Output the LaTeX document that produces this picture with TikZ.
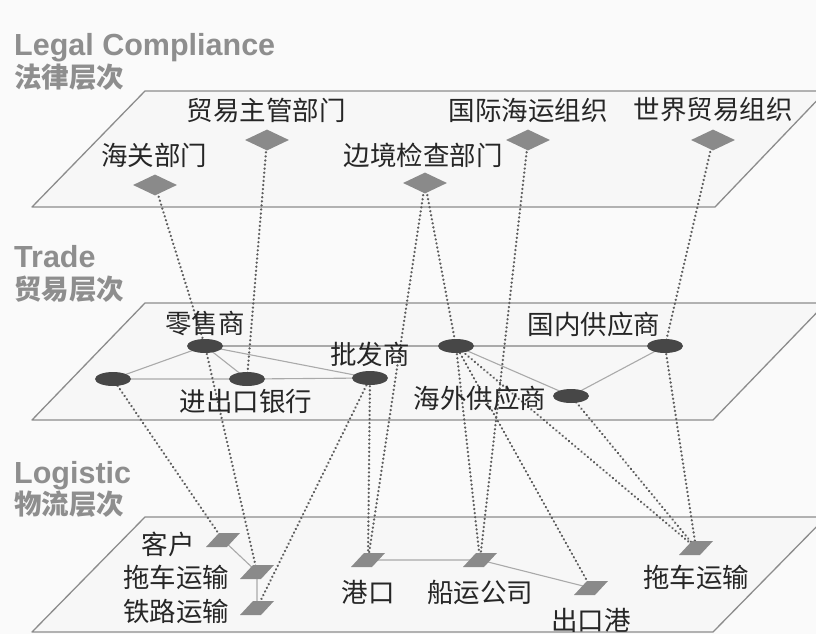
\documentclass[tikz,border=0pt]{standalone}
\usepackage{fontspec}
\setmainfont{Liberation Sans}
\newfontfamily\cjk{Noto Sans CJK SC}
\usetikzlibrary{shapes.geometric}
\pgfdeclarelayer{bg}
\pgfsetlayers{bg,main}
\definecolor{bgcol}{HTML}{FAFAFA}
\definecolor{planefill}{HTML}{F7F7F7}
\definecolor{planeline}{HTML}{8C8C8C}
\definecolor{nodegray}{HTML}{8A8A8A}
\definecolor{darknode}{HTML}{474747}
\definecolor{labcol}{HTML}{262626}
\definecolor{titlecol}{HTML}{8E8E8E}
\definecolor{linkgray}{HTML}{AAAAAA}
\definecolor{dotgray}{HTML}{5E5E5E}
\tikzset{
  planebox/.style={draw=planeline, line width=1.3pt, fill=planefill, line join=round},
  legalnode/.style={diamond, fill=nodegray, minimum width=44pt, minimum height=21pt, inner sep=0pt},
  tradenode/.style={ellipse, fill=darknode, minimum width=36pt, minimum height=14pt, inner sep=0pt},
  logipt/.style={rectangle, inner sep=0pt, minimum size=0pt},
  logifill/.style={fill=nodegray},
  lab/.style={font=\cjk\fontsize{26.5}{27}\selectfont, text=labcol, inner sep=0pt},
  layertitle/.style={font=\bfseries\fontsize{30.5}{31}\selectfont, text=titlecol, inner sep=0pt, anchor=base west},
  layercn/.style={font=\cjk\bfseries\fontsize{27.5}{28}\selectfont, text=titlecol, inner sep=0pt, anchor=base west},
  solidlink/.style={draw=linkgray, line width=1.1pt},
  vlink/.style={draw=dotgray, line width=2.5pt, line cap=round, dash pattern=on 0.1pt off 4pt}
}
\begin{document}
\begin{tikzpicture}[x=1pt,y=-1pt]
\useasboundingbox (0,0) rectangle (816,634);

% layer titles
\node[layertitle] (t1) at (14,56) {Legal Compliance};
\node[layercn] (t1c) at (14,87) {法律层次};
\node[layertitle] (t2) at (14,267) {Trade};
\node[layercn] (t2c) at (14,299) {贸易层次};
\node[layertitle] (t3) at (14,483) {Logistic};
\node[layercn] (t3c) at (14,514) {物流层次};

% legal nodes
\node[legalnode] (hg) at (155,185) {};
\node[legalnode] (mz) at (267,140) {};
\node[legalnode] (bj) at (425,183) {};
\node[legalnode] (gj) at (528,140) {};
\node[legalnode] (sj) at (713,140) {};
\node[lab] (hgl) at (154,155) {海关部门};
\node[lab] (mzl) at (266,110) {贸易主管部门};
\node[lab] (bjl) at (423,155) {边境检查部门};
\node[lab] (gjl) at (528,110) {国际海运组织};
\node[lab] (sjl) at (713,110) {世界贸易组织};

% trade nodes
\node[tradenode] (el) at (113,379) {};
\node[tradenode] (ls) at (205,346) {};
\node[tradenode] (jck) at (247,379) {};
\node[tradenode] (pf) at (370,378) {};
\node[tradenode] (ex) at (456,346) {};
\node[tradenode] (gn) at (665,346) {};
\node[tradenode] (hw) at (571,396) {};
\node[lab] (lsl) at (205,323) {零售商};
\node[lab] (pfl) at (370,354) {批发商};
\node[lab] (gnl) at (594,324) {国内供应商};
\node[lab] (jckl) at (246,401) {进出口银行};
\node[lab] (hwl) at (480,398) {海外供应商};

% logistic nodes
\node[logipt] (kh) at (223,540) {};
\node[logipt] (tcl) at (257,572) {};
\node[logipt] (tl) at (257,608) {};
\node[logipt] (gk) at (368,560) {};
\node[logipt] (cy) at (480,560) {};
\node[logipt] (ck) at (591,588) {};
\node[logipt] (tcr) at (696,548) {};
\foreach \n in {kh,tcl,tl,gk,cy,ck,tcr}{
  \path[logifill] (\n.center) ++(-17,7) -- ++(21,0) -- ++(13,-14) -- ++(-21,0) -- cycle;
}
\node[lab] (khl) at (168,544) {客户};
\node[lab] (tcll) at (176,577) {拖车运输};
\node[lab] (tll) at (176,611) {铁路运输};
\node[lab] (gkl) at (368,592) {港口};
\node[lab] (cyl) at (480,592) {船运公司};
\node[lab] (ckl) at (591,620) {出口港};
\node[lab] (tcrl) at (696,577) {拖车运输};

\begin{pgfonlayer}{bg}
  \fill[bgcol] (0,0) rectangle (816,634);
  % planes
  \path[planebox] (32,207) -- (145,91) -- (826,91) -- (715,207) -- cycle;
  \path[planebox] (32,420) -- (145,303) -- (826,303) -- (713,420) -- cycle;
  \path[planebox] (32,632) -- (145,517) -- (826,517) -- (713,632) -- cycle;
  % trade links
  \path[solidlink] (ls.center) -- (el.center);
  \path[solidlink] (el.center) -- (jck.center) -- (pf.center);
  \path[solidlink] (ls.center) -- (jck.center);
  \path[solidlink] (ls.center) -- (pf.center);
  \path[solidlink] (ls.center) -- (ex.center) -- (gn.center);
  \path[solidlink] (ex.center) -- (hw.center) -- (gn.center);
  % logistic links
  \path[solidlink] (kh.center) -- (tcl.center) -- (tl.center);
  \path[solidlink] (gk.center) -- (cy.center) -- (ck.center);
  % cross-layer dotted links
  \path[vlink] (hg.center) -- (ls.center);
  \path[vlink] (ls.center) -- (tcl.center);
  \path[vlink] (mz.center) -- (jck.center);
  \path[vlink] (bj.center) -- (gk.center);
  \path[vlink] (bj.center) -- (ex.center);
  \path[vlink] (gj.center) -- (cy.center);
  \path[vlink] (sj.center) -- (gn.center);
  \path[vlink] (el.center) -- (kh.center);
  \path[vlink] (pf.center) -- (tl.center);
  \path[vlink] (pf.center) -- (gk.center);
  \path[vlink] (ex.center) -- (cy.center);
  \path[vlink] (ex.center) -- (ck.center);
  \path[vlink] (ex.center) -- (tcr.center);
  \path[vlink] (hw.center) -- (tcr.center);
  \path[vlink] (gn.center) -- (tcr.center);
\end{pgfonlayer}
\end{tikzpicture}
\end{document}
